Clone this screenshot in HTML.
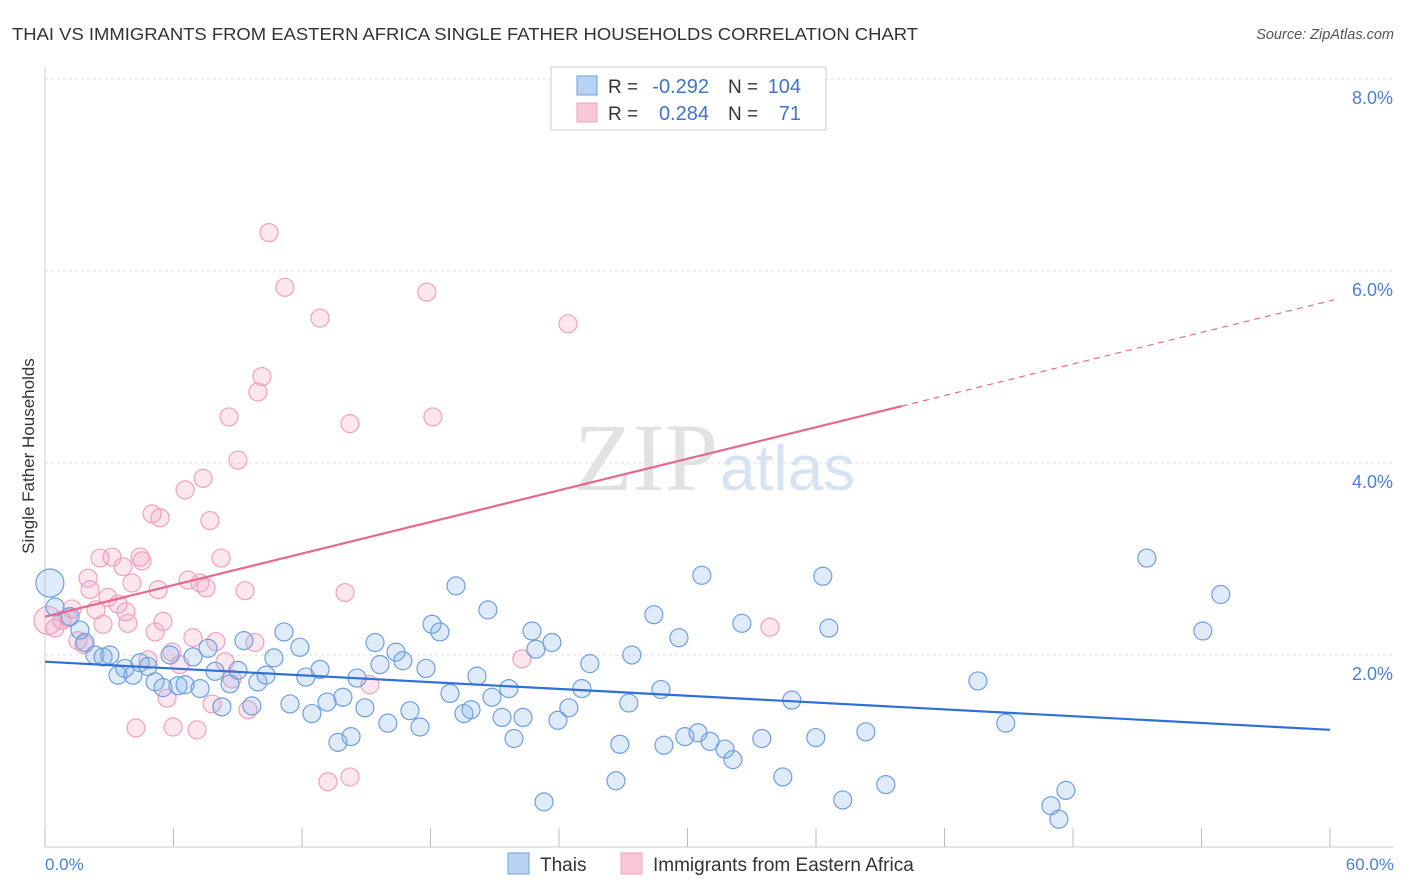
<!DOCTYPE html>
<html><head><meta charset="utf-8"><style>
body{margin:0;background:#fff;font-family:"Liberation Sans",sans-serif;}
svg{display:block}
</style></head><body>
<svg id="chart" width="1406" height="892" xmlns="http://www.w3.org/2000/svg">
<text x="12" y="40" font-size="17.5" fill="#333" textLength="906" lengthAdjust="spacingAndGlyphs">THAI VS IMMIGRANTS FROM EASTERN AFRICA SINGLE FATHER HOUSEHOLDS CORRELATION CHART</text>
<text x="1394" y="39" font-size="14.5" fill="#555" font-style="italic" text-anchor="end">Source: ZipAtlas.com</text>
<g id="grid"></g>
<text x="718" y="490" font-size="96" fill="#e2e2e2" text-anchor="end" font-family="Liberation Serif">ZIP</text>
<text x="720" y="490" font-size="64" fill="#d5e3f5">atlas</text>
<g id="points"></g>
<g id="lines"></g>
<text transform="translate(34,456) rotate(-90)" font-size="17" fill="#333" text-anchor="middle">Single Father Households</text>
<text x="45" y="870" font-size="17" fill="#4a7fd6">0.0%</text>
<text x="1394" y="870" font-size="17" fill="#4a7fd6" text-anchor="end">60.0%</text>
<g>
<rect x="551" y="67" width="275" height="63" fill="#fff" stroke="#ccc"/>
<rect x="577" y="76" width="20" height="19" fill="#b9d3f3" stroke="#6d9fe0"/>
<rect x="577" y="103" width="20" height="19" fill="#f9c7d6" stroke="#f0a0bc"/>
<text x="608" y="93" font-size="19" fill="#333">R =</text>
<text x="709" y="93" font-size="20" fill="#3c74d0" text-anchor="end">-0.292</text>
<text x="728" y="93" font-size="19" fill="#333">N =</text>
<text x="801" y="93" font-size="20" fill="#3c74d0" text-anchor="end">104</text>
<text x="608" y="120" font-size="19" fill="#333">R =</text>
<text x="709" y="120" font-size="20" fill="#3c74d0" text-anchor="end">0.284</text>
<text x="728" y="120" font-size="19" fill="#333">N =</text>
<text x="801" y="120" font-size="20" fill="#3c74d0" text-anchor="end">71</text>
</g>
<g>
<rect x="508" y="853" width="21" height="21" fill="#b9d3f3" stroke="#6d9fe0"/>
<text x="540" y="871" font-size="19" fill="#333">Thais</text>
<rect x="621" y="853" width="21" height="21" fill="#f9c7d6" stroke="#f0a0bc"/>
<text x="653" y="871" font-size="19" fill="#333">Immigrants from Eastern Africa</text>
</g>
</svg>
<script>
const yTicks=[2,4,6,8];
const yTickLabels=["2.0%","4.0%","6.0%","8.0%"];
const xTicks=[0,6,12,18,24,30,36,42,48,54,60];
const blueX=[0.23,0.47,1.17,1.63,1.87,2.33,2.71,3.03,3.41,3.73,4.11,4.44,4.81,5.14,5.51,5.84,6.21,6.54,6.91,7.24,7.61,7.94,8.26,8.64,9.01,9.29,9.66,9.94,10.32,10.69,11.16,11.44,11.90,12.18,12.46,12.84,13.17,13.68,13.91,14.29,14.57,14.94,15.41,15.64,16.01,16.39,16.71,17.04,17.51,17.79,18.07,18.44,18.91,19.19,19.56,19.89,20.17,20.68,20.87,21.34,21.66,21.90,22.32,22.74,22.92,23.30,23.67,23.95,24.46,25.07,25.44,26.66,26.84,27.26,27.40,28.43,28.76,28.90,29.60,29.88,30.49,30.67,31.05,31.75,32.12,32.54,33.47,34.45,34.87,35.99,36.32,36.60,37.25,38.33,39.26,43.56,44.86,46.97,47.34,47.67,51.45,54.06,54.90];
const blueY=[2.75,2.50,2.40,2.26,2.13,2.00,1.98,2.00,1.79,1.86,1.79,1.92,1.88,1.72,1.66,2.00,1.68,1.69,1.98,1.65,2.07,1.83,1.46,1.70,1.84,2.15,1.47,1.72,1.79,1.97,2.24,1.49,2.08,1.77,1.39,1.85,1.51,1.09,1.56,1.15,1.76,1.45,2.13,1.90,1.29,2.03,1.94,1.42,1.25,1.86,2.32,2.24,1.60,2.72,1.39,1.43,1.78,2.47,1.56,1.35,1.65,1.13,1.35,2.25,2.06,0.47,2.13,1.32,1.45,1.65,1.91,0.69,1.07,1.50,2.00,2.42,1.64,1.06,2.18,1.15,1.19,2.83,1.10,1.02,0.91,2.33,1.13,0.73,1.53,1.14,2.82,2.28,0.49,1.20,0.65,1.73,1.29,0.43,0.29,0.59,3.01,2.25,2.63];
const pinkX=[0.14,0.47,0.79,1.07,1.26,1.54,1.82,2.01,2.10,2.38,2.57,2.71,2.94,3.13,3.41,3.64,3.78,3.87,4.06,4.25,4.44,4.53,4.81,5.00,5.14,5.28,5.37,5.51,5.70,5.93,5.98,6.30,6.54,6.68,6.91,7.10,7.24,7.38,7.52,7.70,7.80,7.98,8.22,8.40,8.59,8.73,9.01,9.34,9.48,9.80,9.94,10.13,10.46,11.20,12.84,13.21,14.01,14.24,14.24,15.17,17.83,18.11,22.27,24.42,33.85];
const pinkY=[2.36,2.28,2.36,2.39,2.48,2.15,2.11,2.80,2.68,2.47,3.01,2.32,2.60,3.02,2.53,2.92,2.45,2.33,2.75,1.24,3.02,2.98,1.95,3.47,2.24,2.68,3.43,2.35,1.55,2.03,1.25,1.90,3.72,2.78,2.18,1.22,2.75,3.84,2.70,3.40,1.49,2.14,3.01,1.93,4.48,1.75,4.03,2.67,1.43,2.13,4.74,4.90,6.40,5.83,5.51,0.68,2.65,0.73,4.41,1.69,5.78,4.48,1.96,5.45,2.29];
const NS="http://www.w3.org/2000/svg";
const X0=45,X1=1330,Y0=847,Ypx=96;
function sx(v){return X0+(v/60)*(X1-X0);}
function sy(v){return Y0-v*Ypx;}
function mk(tag,attrs,parent){const e=document.createElementNS(NS,tag);for(const k in attrs)e.setAttribute(k,attrs[k]);parent.appendChild(e);return e;}
const grid=document.getElementById('grid');
mk('line',{x1:X0,y1:67,x2:X0,y2:Y0,stroke:'#ccc'},grid);
mk('line',{x1:X0,y1:Y0,x2:1394,y2:Y0,stroke:'#ccc'},grid);
mk('line',{x1:X0,y1:79,x2:1394,y2:79,stroke:'#ddd','stroke-dasharray':'3,3'},grid);
yTicks.forEach((t,i)=>{
  const l=mk('line',{x1:X0,y1:sy(t),x2:1394,y2:sy(t),stroke:'#ddd','stroke-dasharray':'3,3'},grid);
  
  
  const tx=mk('text',{x:1393,y:sy(t)+25,'font-size':18,fill:'#4a7fd6','text-anchor':'end'},grid);
  tx.textContent=yTickLabels[i];
  
  
});
xTicks.forEach(t=>{
  const l=mk('line',{x1:sx(t),y1:828,x2:sx(t),y2:Y0,stroke:'#bbb'},grid);
  
  
});
const pts=document.getElementById('points');
function drawPts(xs,ys,fill,stroke,name){
  xs.forEach((x,i)=>{
    const r=(x<0.3&&i===0)?14:9;
    const c=mk('circle',{cx:sx(x),cy:sy(ys[i]),r:r,fill:fill,stroke:stroke,'stroke-width':1.2},pts);
    
    
  });
}
drawPts(pinkX,pinkY,'rgba(244,160,190,0.25)','#f0a0bc','point-eastern-africa');
drawPts(blueX,blueY,'rgba(130,175,235,0.25)','#6d9fe0','point-thais');
function fit(xs,ys){const n=xs.length;let mx=0,my=0;xs.forEach((x,i)=>{mx+=x;my+=ys[i];});mx/=n;my/=n;let sxy=0,sxx=0;xs.forEach((x,i)=>{sxy+=(x-mx)*(ys[i]-my);sxx+=(x-mx)*(x-mx);});const b=sxy/sxx;return [my-b*mx,b];}
const lines=document.getElementById('lines');
const bf=fit(blueX,blueY);
const bl=mk('line',{x1:sx(0),y1:sy(bf[0]),x2:sx(60),y2:sy(bf[0]+bf[1]*60),stroke:'#2f6fd6','stroke-width':2.2},lines);


const pf=fit(pinkX,pinkY);
const pl=mk('line',{x1:sx(0),y1:sy(pf[0]),x2:sx(40),y2:sy(pf[0]+pf[1]*40),stroke:'#e8678f','stroke-width':2.2},lines);


const pd=mk('line',{x1:sx(40),y1:sy(pf[0]+pf[1]*40),x2:sx(60.2),y2:sy(pf[0]+pf[1]*60.2),stroke:'#e8678f','stroke-width':1.2,'stroke-dasharray':'6,5'},lines);


</script>
</body></html>
